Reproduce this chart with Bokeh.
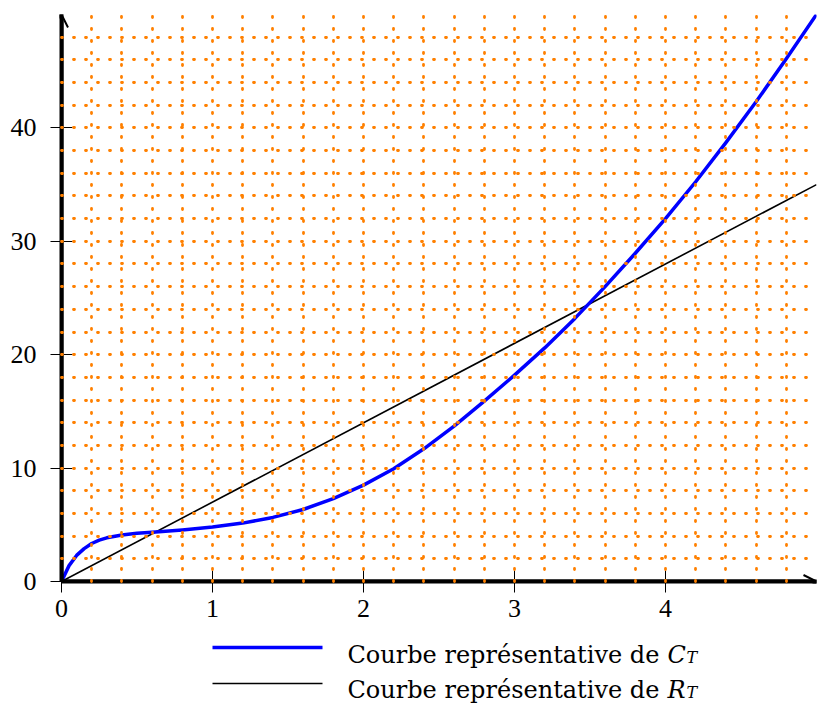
import numpy as np
from bokeh.plotting import figure
from bokeh.layouts import column
from bokeh.models import Range1d, FixedTicker, Arrow, OpenHead, Label
from bokeh.embed import file_html
from bokeh.resources import INLINE

# ---- data ----
x_ct = [0, 0.05, 0.1, 0.15, 0.2, 0.25, 0.3, 0.4, 0.5, 0.6, 0.8, 1.0, 1.2, 1.4, 1.6, 1.8, 2.0,
        2.2, 2.4, 2.6, 2.8, 3.0, 3.2, 3.4, 3.6, 3.8, 4.0, 4.2, 4.4, 4.6, 4.8, 5.0]
y_ct = [0, 1.4, 2.3, 2.9, 3.35, 3.65, 3.85, 4.1, 4.25, 4.35, 4.55, 4.8, 5.15, 5.65, 6.35, 7.3, 8.5,
        9.95, 11.7, 13.7, 15.9, 18.2, 20.6, 23.2, 26.0, 28.95, 32.0, 35.25, 38.7, 42.3, 46.1, 50.0]
x_rt = [0, 5]
y_rt = [0, 35]
x_ticks = [0, 1, 2, 3, 4]
y_ticks = [0, 10, 20, 30, 40]
x_max, y_max = 5, 50
grid_dx, grid_dy = 0.2, 2
label_ct = ("Courbe représentative de ", "C", "T")
label_rt = ("Courbe représentative de ", "R", "T")

TICK_FONT = "Liberation Serif"
LEG_FONT = "DejaVu Serif"
ORANGE = "#ff8000"

W = 830
H1 = 634
p = figure(width=W, height=H1, output_backend="svg", toolbar_location=None,
           x_range=Range1d(0, x_max), y_range=Range1d(0, y_max),
           min_border_left=61, min_border_right=14, min_border_top=14, min_border_bottom=H1 - 581)
p.outline_line_color = None

for ax, ticks in ((p.xaxis[0], x_ticks), (p.yaxis[0], y_ticks)):
    ax.ticker = FixedTicker(ticks=ticks)
    ax.minor_tick_line_color = None
    ax.major_tick_in = 11
    ax.major_tick_out = 11
    ax.major_tick_line_width = 1
    ax.axis_line_width = 4
    ax.axis_line_color = "black"
    ax.major_label_text_font = TICK_FONT
    ax.major_label_text_font_size = "26px"
    ax.major_label_text_color = "black"
p.xaxis.major_label_standoff = 7
p.yaxis.major_label_standoff = 14

p.xgrid.ticker = FixedTicker(ticks=list(np.round(np.arange(0, x_max + 1e-9, grid_dx), 3)))
p.ygrid.ticker = FixedTicker(ticks=list(np.arange(0, y_max + 1, grid_dy)))
for g in (p.xgrid[0], p.ygrid[0]):
    g.grid_line_color = ORANGE
    g.grid_line_width = 2.8
    g.grid_line_dash = "1 11"
    g.grid_line_cap = "round"
    g.level = "overlay"

p.line(x_rt, y_rt, line_color="black", line_width=1.6)
p.line(x_ct, y_ct, line_color="#0000ff", line_width=3.5, line_join="round")

p.add_layout(Arrow(end=OpenHead(size=13, line_width=2, line_color="black"),
                   x_start=0, y_start=0, x_end=x_max, y_end=0,
                   line_width=4, line_color="black"))
p.add_layout(Arrow(end=OpenHead(size=13, line_width=2, line_color="black"),
                   x_start=0, y_start=0, x_end=0, y_end=y_max,
                   line_width=4, line_color="black"))

# ---- legend panel (coordinates = page pixels) ----
q = figure(width=W, height=704 - H1, output_backend="svg", toolbar_location=None,
           x_range=Range1d(61, 816), y_range=Range1d(704, H1),
           x_axis_type=None, y_axis_type=None,
           min_border_left=61, min_border_right=14, min_border_top=0, min_border_bottom=0)
q.outline_line_color = None
q.xgrid.visible = False
q.ygrid.visible = False

rows = [(label_ct, "#0000ff", 3.5, 647, 654), (label_rt, "black", 1.6, 683, 689)]
for (main, sym, sub), col, lw, ly, by in rows:
    q.line([212, 322], [ly, ly], line_color=col, line_width=lw)
    q.add_layout(Label(x=347, y=by, text=main, text_font=LEG_FONT, text_font_size="24px",
                       text_baseline="alphabetic", text_color="black"))
    q.add_layout(Label(x=667, y=by, text=sym, text_font=LEG_FONT, text_font_size="24px",
                       text_font_style="italic", text_baseline="alphabetic", text_color="black"))
    q.add_layout(Label(x=686, y=by + 3, text=sub, text_font=LEG_FONT, text_font_size="16px",
                       text_font_style="italic", text_baseline="alphabetic", text_color="black"))

layout = column(p, q, spacing=0)
open("out.html", "w").write(file_html(layout, INLINE))
